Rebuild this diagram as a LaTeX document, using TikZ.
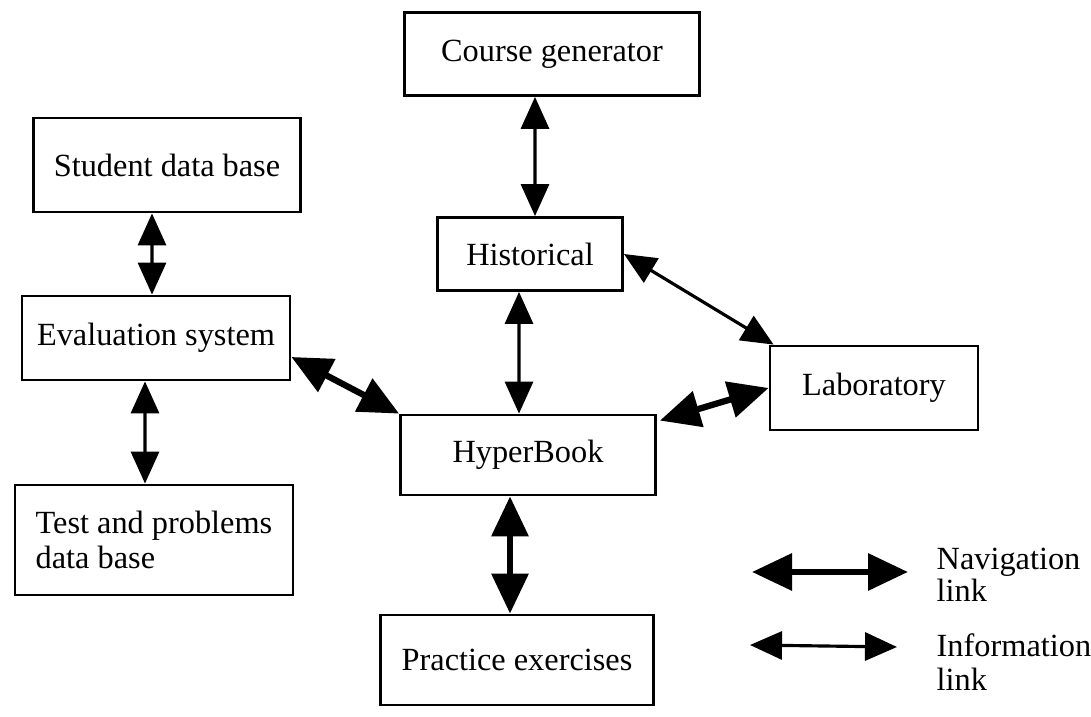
\documentclass[tikz,border=0pt]{standalone}
\usepackage{fontspec}
\setmainfont{Liberation Serif}
\usetikzlibrary{arrows.meta,positioning}

\begin{document}
\begin{tikzpicture}[%
    font=\fontsize{9.2}{10}\selectfont,
    box/.style={draw,line width=0.8pt,inner sep=0pt,align=center},
    info/.style={{Triangle[length=3.2mm,width=2.8mm]}-{Triangle[length=3.2mm,width=2.8mm]},line width=0.9pt},
    nav/.style={{Triangle[length=4mm,width=3.6mm]}-{Triangle[length=4mm,width=3.6mm]},line width=1.8pt}]
    \useasboundingbox (0,0) rectangle (10.91,-7.17);
    % boxes
    \node[box,minimum width=2.95cm,minimum height=0.83cm] (cg) at (5.52,-0.54) {Course generator};
    \node[box,minimum width=2.67cm,minimum height=0.94cm] (sdb) at (1.67,-1.65) {Student data base};
    \node[box,minimum width=1.85cm,minimum height=0.73cm] (hist) at (5.30,-2.54) {Historical};
    \node[box,minimum width=2.68cm,minimum height=0.84cm] (eval) at (1.56,-3.38) {Evaluation system};
    \node[box,minimum width=2.08cm,minimum height=0.84cm] (lab) at (8.74,-3.88) {Laboratory};
    \node[box,minimum width=2.55cm,minimum height=0.80cm] (hb) at (5.28,-4.55) {HyperBook};
    \node[box,minimum width=2.78cm,minimum height=1.10cm,align=left] (tp) at (1.54,-5.40) {Test and problems\\data base};
    \node[box,minimum width=2.73cm,minimum height=0.90cm] (pe) at (5.17,-6.60) {Practice exercises};
    % information links
    \draw[info] ([xshift=-1.7mm]cg.south) -- ([xshift=0.5mm]hist.north);
    \draw[info] ([xshift=-1.5mm]sdb.south) -- ([xshift=-0.4mm]eval.north);
    \draw[info] ([xshift=-1.1mm]eval.south) -- ([xshift=-0.9mm]tp.north);
    \draw[info] ([xshift=-1.1mm]hist.south) -- ([xshift=-0.9mm]hb.north);
    \draw[info] (hist.east) -- ([xshift=0.5mm]lab.north west);
    % navigation links
    \draw[nav] ([yshift=-1.9mm]eval.east) -- (hb.north west);
    \draw[nav] ([xshift=0.3mm,yshift=-0.7mm]hb.north east) -- (lab.west);
    \draw[nav] ([xshift=-1.8mm]hb.south) -- ([xshift=-0.7mm]pe.north);
    % legend
    \coordinate (nava) at (7.52,-5.72);
    \coordinate (navb) at (9.08,-5.72);
    \coordinate (infa) at (7.50,-6.45);
    \coordinate (infb) at (8.97,-6.47);
    \draw[nav] (nava) -- (navb);
    \draw[info] (infa) -- (infb);
    \node[anchor=west,align=left,inner sep=0pt,font=\fontsize{9.2}{9}\selectfont] (navtxt) at (9.36,-5.75) {Navigation\\link};
    \node[anchor=west,align=left,inner sep=0pt,font=\fontsize{9.2}{9.5}\selectfont] (inftxt) at (9.36,-6.62) {Information\\link};
\end{tikzpicture}
\end{document}
